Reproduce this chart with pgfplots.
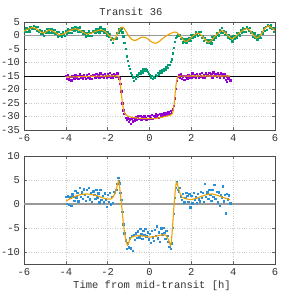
\documentclass[border=0pt]{standalone}
\usepackage{pgfplots}
\pgfplotsset{compat=1.18}
\usepackage{fontspec}
\setmainfont{Liberation Mono}
\definecolor{cgreen}{HTML}{009E73}
\definecolor{cpurple}{HTML}{9400D3}
\definecolor{cblue}{HTML}{2A8FD4}
\definecolor{corange}{HTML}{F0A000}
\pgfplotsset{
  gp/.style={
    scale only axis, width=251bp, height=108bp,
    xmin=-6, xmax=6, xtick={-6,-4,...,6},
    axis line style={black!70, line width=0.7pt},
    grid=major, major grid style={black!20, dotted, line width=0.4pt},
    tick style={black!60, line width=0.5pt}, major tick length=3bp,
    tick align=inside,
    /pgf/number format/assume math mode=true,
    ticklabel style={font=\fontsize{10.5bp}{12bp}\selectfont, text=black!80},
    xticklabel style={yshift=-1bp},
    yticklabel style={xshift=-0.5bp},
    clip=true, clip marker paths=true,
  },
  pts/.style={only marks, mark=square*, mark size=0.7bp, mark options={draw=none}},
}
\begin{document}
\begin{tikzpicture}[x=1bp,y=1bp]
\path[use as bounding box] (0,0) rectangle (285,293);
\begin{axis}[gp, at={(24bp,163bp)}, anchor=south west,
  ymin=-35, ymax=5, ytick={-35,-30,...,5}]
\addplot[black!40, line width=1.8pt, forget plot] coordinates {(-6,0) (6,0)};
\addplot[black, line width=0.7pt, forget plot] coordinates {(-6,-15) (6,-15)};
% green points
\addplot[pts, cgreen] table {
-6.00 2.2
-5.95 1.4
-5.90 2.9
-5.85 1.5
-5.80 2.6
-5.75 1.55
-5.70 3.2
-5.65 2.95
-5.60 2.5
-5.55 3.7
-5.50 2.55
-5.45 3.0
-5.40 1.7
-5.35 3.2
-5.30 1.6
-5.25 1.9
-5.20 0.7
-5.15 1.85
-5.10 0.9
-5.05 0.0
-5.00 1.7
-4.95 0.95
-4.90 2.5
-4.85 1.15
-4.80 2.3
-4.75 1.0
-4.70 2.4
-4.65 1.9
-4.60 1.05
-4.55 2.1
-4.50 0.8
-4.45 1.2
-4.40 -0.2
-4.35 1.4
-4.30 -0.1
-4.25 0.6
-4.20 -0.2
-4.15 1.2
-4.10 0.5
-4.05 -0.1
-4.00 1.65
-3.95 0.9
-3.90 2.4
-3.85 1.0
-3.80 2.05
-3.75 1.05
-3.70 2.7
-3.65 2.4
-3.60 1.9
-3.55 3.3
-3.50 2.2
-3.45 2.7
-3.40 1.4
-3.35 3.0
-3.30 1.45
-3.25 1.8
-3.20 0.7
-3.15 1.8
-3.10 0.8
-3.05 -0.2
-3.00 1.1
-2.95 0.15
-2.90 1.55
-2.85 0.0
-2.80 1.0
-2.75 0.0
-2.70 1.65
-2.65 1.45
-2.60 1.0
-2.55 2.4
-2.50 1.55
-2.45 2.3
-2.40 1.2
-2.35 3.05
-2.30 1.8
-2.25 2.4
-2.20 1.25
-2.15 2.3
-2.10 1.2
-2.05 0.05
-2.00 1.2
-1.95 -0.2
-1.90 0.6
-1.85 -1.45
-1.80 -1.0
-1.75 -2.6
-1.70 -1.2
-1.65 -1.1
-1.60 -1.0
-1.55 1.1
-1.50 1.0
-1.45 2.4
-1.40 1.8
-1.35 2.7
-1.30 1.2
-1.25 -0.3
-1.20 -2.6
-1.15 -4.8
-1.10 -7.6
-1.05 -9.4
-1.00 -11.2
-0.95 -12.3
-0.90 -13.8
-0.85 -14.6
-0.80 -15.5
-0.75 -16.8
-0.70 -15.2
-0.65 -16.0
-0.60 -14.6
-0.55 -15.1
-0.50 -13.9
-0.45 -14.2
-0.40 -13.1
-0.35 -13.6
-0.30 -12.4
-0.25 -13.0
-0.20 -12.2
-0.15 -12.9
-0.10 -13.4
-0.05 -14.1
0.00 -14.6
0.05 -15.4
0.10 -14.9
0.15 -15.9
0.20 -15.3
0.25 -15.6
0.30 -14.5
0.35 -14.9
0.40 -13.8
0.45 -14.3
0.50 -13.2
0.55 -13.6
0.60 -12.7
0.65 -13.1
0.70 -12.2
0.75 -12.6
0.80 -11.6
0.85 -11.9
0.90 -10.8
0.95 -10.9
1.00 -9.6
1.05 -8.8
1.10 -6.6
1.15 -4.6
1.20 -2.4
1.25 -0.9
1.30 -0.3
1.35 0.2
1.40 0.0
1.45 0.3
1.50 -1.2
1.55 -0.8
1.60 -2.5
1.65 -1.35
1.70 -2.1
1.75 -2.75
1.80 -1.25
1.85 -2.0
1.90 -1.05
1.95 -1.9
2.00 0.3
2.05 -0.65
2.10 0.3
2.15 -0.3
2.20 1.2
2.25 0.6
2.30 0.0
2.35 1.35
2.40 0.2
2.45 1.3
2.50 -0.75
2.55 -0.3
2.60 -2.0
2.65 -0.9
2.70 -1.65
2.75 -2.6
2.80 -1.7
2.85 -2.55
2.90 -1.8
2.95 -2.8
3.00 -0.5
3.05 -1.3
3.10 -0.2
3.15 -0.7
3.20 0.95
3.25 0.5
3.30 0.1
3.35 1.9
3.40 1.2
3.45 2.8
3.50 1.0
3.55 1.65
3.60 0.2
3.65 1.25
3.70 0.4
3.75 -0.65
3.80 0.2
3.85 -1.05
3.90 -0.7
3.95 -2.1
4.00 -0.05
4.05 -1.1
4.10 -0.2
4.15 -0.7
4.20 0.95
4.25 0.5
4.30 0.1
4.35 1.9
4.40 1.15
4.45 2.7
4.50 1.4
4.55 2.45
4.60 1.45
4.65 3.1
4.70 2.5
4.75 1.7
4.80 2.8
4.85 1.25
4.90 1.25
4.95 -0.5
5.00 0.85
5.05 -0.85
5.10 -0.7
5.15 -1.45
5.20 0.05
5.25 -0.6
5.30 -0.8
5.35 1.3
5.40 0.9
5.45 2.75
5.50 1.75
5.55 3.2
5.60 2.2
5.65 3.9
5.70 3.7
5.75 2.85
5.80 3.85
5.85 2.6
5.90 2.85
5.95 1.3
6.00 2.7
};
% purple points
\addplot[pts, cpurple] table {
-4.00 -15.0
-3.95 -16.0
-3.90 -14.7
-3.85 -16.2
-3.80 -15.3
-3.75 -16.5
-3.70 -15.0
-3.65 -15.35
-3.60 -15.9
-3.55 -14.6
-3.50 -15.6
-3.45 -15.0
-3.40 -16.1
-3.35 -14.3
-3.30 -15.6
-3.25 -15.0
-3.20 -15.85
-3.15 -14.5
-3.10 -15.3
-3.05 -16.1
-3.00 -14.55
-2.95 -15.5
-2.90 -14.2
-2.85 -15.8
-2.80 -14.85
-2.75 -16.0
-2.70 -14.5
-2.65 -14.9
-2.60 -15.5
-2.55 -14.15
-2.50 -15.15
-2.45 -14.5
-2.40 -15.7
-2.35 -13.9
-2.30 -15.15
-2.25 -14.55
-2.20 -15.4
-2.15 -14.1
-2.10 -14.9
-2.05 -15.65
-2.00 -14.15
-1.95 -15.1
-1.90 -13.8
-1.85 -15.4
-1.80 -14.5
-1.75 -15.7
-1.70 -14.2
-1.65 -14.6
-1.60 -15.2
-1.55 -13.9
-1.50 -15.2
-1.45 -15.8
-1.40 -17.9
-1.35 -20.6
-1.30 -25.1
-1.25 -27.6
-1.20 -29.0
-1.15 -30.4
-1.10 -31.2
-1.05 -30.6
-1.00 -32.0
-0.95 -31.0
-0.90 -32.6
-0.85 -30.7
-0.80 -31.8
-0.75 -30.5
-0.70 -31.4
-0.65 -30.2
-0.60 -31.1
-0.55 -29.9
-0.50 -30.8
-0.45 -29.8
-0.40 -31.0
-0.35 -30.0
-0.30 -30.6
-0.25 -29.6
-0.20 -30.4
-0.15 -31.2
-0.10 -29.8
-0.05 -30.9
0.00 -29.9
0.05 -30.6
0.10 -29.4
0.15 -30.8
0.20 -29.8
0.25 -30.3
0.30 -29.2
0.35 -30.1
0.40 -29.4
0.45 -30.5
0.50 -29.0
0.55 -29.8
0.60 -28.9
0.65 -29.6
0.70 -28.6
0.75 -29.4
0.80 -28.5
0.85 -29.2
0.90 -28.2
0.95 -29.0
1.00 -27.9
1.05 -28.6
1.10 -27.3
1.15 -26.0
1.20 -23.2
1.25 -19.8
1.30 -16.8
1.35 -15.2
1.40 -14.7
1.45 -15.7
1.50 -14.4
1.55 -16.0
1.60 -15.1
1.65 -16.3
1.70 -14.8
1.75 -15.2
1.80 -15.8
1.85 -14.5
1.90 -15.4
1.95 -14.9
2.00 -15.6
2.05 -13.9
2.10 -15.2
2.15 -14.5
2.20 -15.4
2.25 -14.1
2.30 -14.9
2.35 -15.6
2.40 -14.1
2.45 -15.1
2.50 -13.8
2.55 -15.4
2.60 -14.5
2.65 -15.5
2.70 -14.0
2.75 -14.5
2.80 -15.0
2.85 -13.8
2.90 -14.8
2.95 -14.2
3.00 -15.4
3.05 -13.6
3.10 -14.9
3.15 -14.3
3.20 -15.2
3.25 -13.9
3.30 -14.7
3.35 -15.5
3.40 -14.0
3.45 -14.8
3.50 -14.3
3.55 -15.6
3.60 -14.4
3.65 -16.4
3.68 -17.2
3.70 -15.1
3.75 -15.8
3.80 -15.4
3.85 -16.6
};
% orange model (top, variability)
\addplot[corange, line width=1.1pt, smooth] table {
-6.00 1.6
-5.90 2.0
-5.80 2.4
-5.70 2.7
-5.60 3.0
-5.50 2.75
-5.40 2.5
-5.30 1.9
-5.20 1.3
-5.10 1.0
-5.05 0.9
-4.95 1.35
-4.85 1.85
-4.80 2.1
-4.70 1.9
-4.60 1.55
-4.50 1.0
-4.40 0.6
-4.30 0.2
-4.20 0.4
-4.10 0.6
-4.00 1.05
-3.90 1.5
-3.80 1.85
-3.70 2.2
-3.55 2.5
-3.45 2.3
-3.35 2.0
-3.25 1.5
-3.15 1.1
-3.05 0.7
-3.00 0.5
-2.90 0.65
-2.80 0.8
-2.70 1.15
-2.60 1.5
-2.50 1.75
-2.40 2.0
-2.30 2.1
-2.20 1.85
-2.10 1.3
-2.00 0.6
-1.90 -0.3
-1.80 -1.2
-1.72 -1.75
-1.65 -1.2
-1.55 0.3
-1.45 2.0
-1.38 2.8
-1.32 3.1
-1.25 2.95
-1.20 2.5
-1.10 1.2
-1.05 0.5
-0.95 -0.6
-0.85 -1.4
-0.75 -1.8
-0.65 -1.75
-0.55 -1.35
-0.45 -0.9
-0.35 -0.6
-0.25 -0.65
-0.15 -0.9
-0.05 -1.4
0.05 -2.1
0.15 -2.6
0.30 -2.9
0.45 -2.3
0.60 -1.3
0.70 -0.75
0.80 -0.2
0.90 0.3
1.00 0.7
1.10 1.05
1.20 1.3
1.30 1.15
1.40 0.4
1.50 -0.5
1.60 -1.5
1.70 -2.2
1.78 -2.2
1.90 -1.45
2.00 -0.7
2.10 0.0
2.20 0.5
2.30 0.9
2.40 0.6
2.50 -0.05
2.60 -1.0
2.70 -1.75
2.80 -2.5
2.90 -2.2
3.00 -1.5
3.10 -0.5
3.20 0.25
3.30 1.0
3.40 1.6
3.45 1.9
3.55 1.45
3.65 0.75
3.75 -0.15
3.85 -0.85
3.95 -1.3
4.05 -0.8
4.15 -0.1
4.25 0.6
4.35 1.3
4.45 1.8
4.55 2.25
4.65 2.6
4.75 2.2
4.85 1.45
4.95 0.3
5.05 -0.55
5.10 -0.9
5.20 -0.65
5.30 0.1
5.40 1.3
5.50 2.45
5.60 3.2
5.70 3.6
5.80 3.05
5.90 2.45
6.00 1.7
};
% orange model (purple transit)
\addplot[corange, line width=1.1pt] table {
-4.00 -15.4
-3.50 -15.3
-3.00 -15.15
-2.50 -15.05
-2.00 -15.0
-1.50 -15.0
-1.46 -15.3
-1.42 -16.6
-1.38 -19.0
-1.34 -22.0
-1.30 -24.6
-1.26 -26.7
-1.22 -28.0
-1.18 -28.8
-1.12 -29.4
-1.05 -29.8
-0.90 -30.2
-0.60 -30.55
-0.30 -30.75
0.00 -30.8
0.30 -30.7
0.60 -30.3
0.90 -29.7
1.05 -29.3
1.10 -28.9
1.14 -27.6
1.18 -25.2
1.22 -22.0
1.26 -18.8
1.30 -16.6
1.34 -15.5
1.38 -15.15
1.45 -15.05
2.00 -15.0
3.00 -15.0
3.85 -15.0
};
\end{axis}
\begin{axis}[gp, at={(24bp,29bp)}, anchor=south west,
  ymin=-12.5, ymax=10, ytick={-10,-5,...,10}]
\addplot[black!40, line width=1.8pt, forget plot] coordinates {(-6,0) (6,0)};
\addplot[pts, cblue] table {
-4.00 1.5
-3.95 0.1
-3.90 1.6
-3.85 -0.1
-3.80 1.4
-3.75 -0.3
-3.70 2.05
-3.65 1.55
-3.60 0.75
-3.55 2.8
-3.50 1.4
-3.45 2.36
-3.40 0.62
-3.35 3.38
-3.30 1.49
-3.25 2.45
-3.20 1.12
-3.15 3.09
-3.10 1.91
-3.05 0.73
-3.00 3.0
-2.95 1.47
-2.90 3.39
-2.85 0.96
-2.80 2.28
-2.75 0.45
-2.70 2.65
-2.65 2.0
-2.60 1.05
-2.55 2.95
-2.50 1.4
-2.45 2.22
-2.40 0.34
-2.35 2.96
-2.30 0.93
-2.25 1.75
-2.20 0.34
-2.15 2.23
-2.10 0.97
-2.05 -0.6
-2.00 1.9
-1.95 0.42
-1.90 2.39
-1.85 0.0
-1.80 1.5
-1.75 0.3
-1.70 2.55
-1.65 2.35
-1.60 3.0
-1.55 4.2
-1.50 5.5
-1.48 4.9
-1.45 4.3
-1.40 2.4
-1.35 0.9
-1.30 -1.6
-1.25 -4.2
-1.20 -6.1
-1.15 -7.5
-1.10 -9.3
-1.05 -8.2
-1.00 -9.0
-0.95 -7.1
-0.90 -9.2
-0.85 -6.6
-0.80 -9.7
-0.75 -6.4
-0.70 -7.4
-0.65 -6.1
-0.60 -7.0
-0.55 -5.7
-0.50 -6.9
-0.45 -5.2
-0.40 -6.3
-0.35 -7.2
-0.30 -5.6
-0.25 -6.4
-0.20 -5.1
-0.15 -6.7
-0.10 -5.9
-0.05 -7.3
0.00 -6.2
0.05 -8.0
0.10 -5.6
0.15 -6.9
0.20 -7.7
0.25 -5.4
0.30 -6.6
0.35 -4.6
0.40 -7.1
0.45 -5.9
0.50 -7.9
0.55 -5.0
0.60 -6.3
0.65 -4.9
0.70 -6.0
0.75 -7.2
0.80 -5.5
0.85 -6.6
0.90 -7.8
0.95 -8.9
1.00 -9.3
1.05 -8.2
1.10 -4.9
1.15 -2.0
1.20 1.3
1.25 3.4
1.30 4.7
1.35 3.0
1.40 2.6
1.45 3.4
1.50 1.6
1.55 0.9
1.60 2.2
1.65 0.4
1.70 1.3
1.75 2.3
1.80 1.7
1.85 0.5
1.90 2.1
1.95 -0.7
2.00 1.7
2.05 0.2
2.10 2.3
2.15 0.9
2.20 1.4
2.25 0.3
2.30 2.2
2.35 1.0
2.40 0.6
2.45 2.6
2.50 1.3
2.55 2.3
2.60 0.5
2.65 4.2
2.70 1.5
2.75 2.5
2.80 1.1
2.85 3.0
2.90 1.9
2.95 0.7
3.00 3.0
3.05 1.5
3.10 4.0
3.15 1.1
3.20 2.6
3.25 0.4
3.30 2.5
3.35 -0.3
3.40 2.0
3.45 1.4
3.50 3.7
3.55 0.6
3.60 1.9
3.65 -1.9
3.70 2.2
3.75 1.0
3.80 1.8
3.85 0.2
};
\addplot[corange, line width=1.1pt] table {
-4.00 0.6
-3.75 1.2
-3.50 1.7
-3.25 2.0
-3.00 2.1
-2.75 1.95
-2.50 1.7
-2.25 1.3
-2.00 1.0
-1.85 1.05
-1.75 1.4
-1.65 2.2
-1.58 3.2
-1.52 4.3
-1.48 4.8
-1.44 4.0
-1.40 2.4
-1.35 0.6
-1.30 -1.8
-1.25 -4.0
-1.20 -5.8
-1.15 -7.1
-1.10 -8.1
-1.05 -8.6
-1.00 -8.2
-0.95 -7.5
-0.90 -7.1
-0.80 -6.8
-0.65 -6.65
-0.50 -6.6
-0.25 -6.7
0.00 -6.9
0.25 -6.8
0.50 -6.5
0.70 -6.4
0.80 -6.6
0.88 -7.2
0.95 -8.0
1.00 -8.6
1.04 -8.0
1.08 -6.0
1.12 -3.6
1.16 -1.0
1.20 1.2
1.24 3.2
1.28 4.5
1.32 4.3
1.38 3.4
1.45 2.3
1.55 1.5
1.70 1.1
2.00 0.9
2.25 1.2
2.50 1.6
2.75 2.0
3.00 2.1
3.25 1.8
3.50 1.4
3.85 0.9
};
\end{axis}
\node[font=\fontsize{10.5bp}{12bp}\selectfont, text=black!80] at (131,281) {Transit 36};
\node[font=\fontsize{10.5bp}{12bp}\selectfont, text=black!80] at (152,7) {Time from mid-transit [h]};
\end{tikzpicture}
\end{document}
